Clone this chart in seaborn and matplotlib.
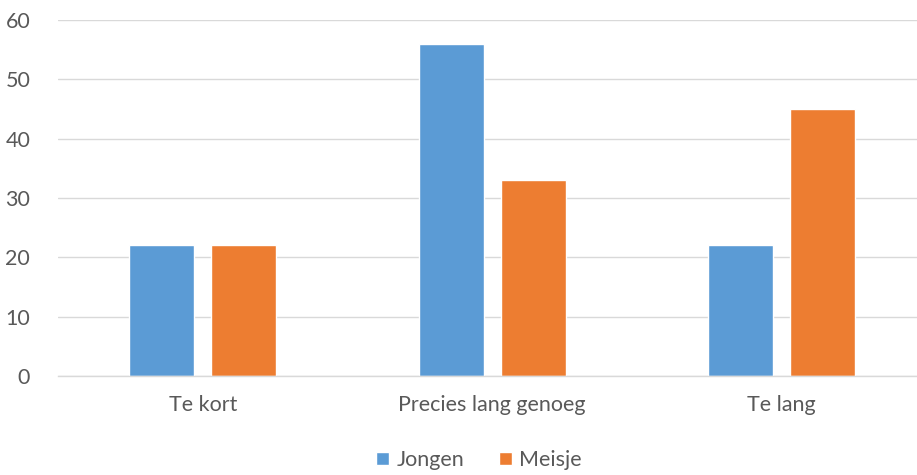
import matplotlib
matplotlib.use("Agg")
import matplotlib.pyplot as plt
import seaborn as sns
import pandas as pd

categories = ["Te kort", "Precies lang genoeg", "Te lang"]
series_names = ["Jongen", "Meisje"]
jongen = [22, 56, 22]
meisje = [22, 33, 45]
yticks = [0, 10, 20, 30, 40, 50, 60]

df = pd.DataFrame({
    "cat": categories * 2,
    "val": jongen + meisje,
    "serie": [series_names[0]] * 3 + [series_names[1]] * 3,
})

sns.set_theme(style="white")
plt.rcParams['font.family'] = ['Lato', 'DejaVu Sans']
txt = "#595959"
fs = 15.5

fig = plt.figure(figsize=(9.17, 4.75), dpi=100)
ax = fig.add_axes([58 / 917, 1 - 376 / 475, 868.5 / 917, 356 / 475])

sns.barplot(data=df, x="cat", y="val", hue="serie", order=categories,
            hue_order=series_names, palette=["#5B9BD5", "#ED7D31"],
            width=0.565, gap=0.205, ax=ax, legend=True, saturation=1)

ax.set_ylim(0, 60)
ax.set_yticks(yticks)
ax.set_xlim(-0.5, 2.5)
ax.yaxis.grid(True, color="#D9D9D9", linewidth=1)
ax.set_axisbelow(True)
for s in ["top", "right", "left"]:
    ax.spines[s].set_visible(False)
ax.spines["bottom"].set_color("#D9D9D9")
ax.spines["bottom"].set_linewidth(1)
ax.set_xlabel("")
ax.set_ylabel("")
ax.tick_params(axis="both", length=0, colors=txt, labelsize=fs)
ax.tick_params(axis="y", pad=20)
ax.tick_params(axis="x", pad=14)

handles, labels = ax.get_legend_handles_labels()
ax.get_legend().remove()
fig.legend(handles, labels, loc="center", bbox_to_anchor=(479 / 917, 1 - 460 / 475),
           ncol=2, frameon=False, fontsize=fs, labelcolor=txt,
           handlelength=0.6, handleheight=0.6, handletextpad=0.35, columnspacing=1.6)

fig.savefig("out.png", dpi=100)
